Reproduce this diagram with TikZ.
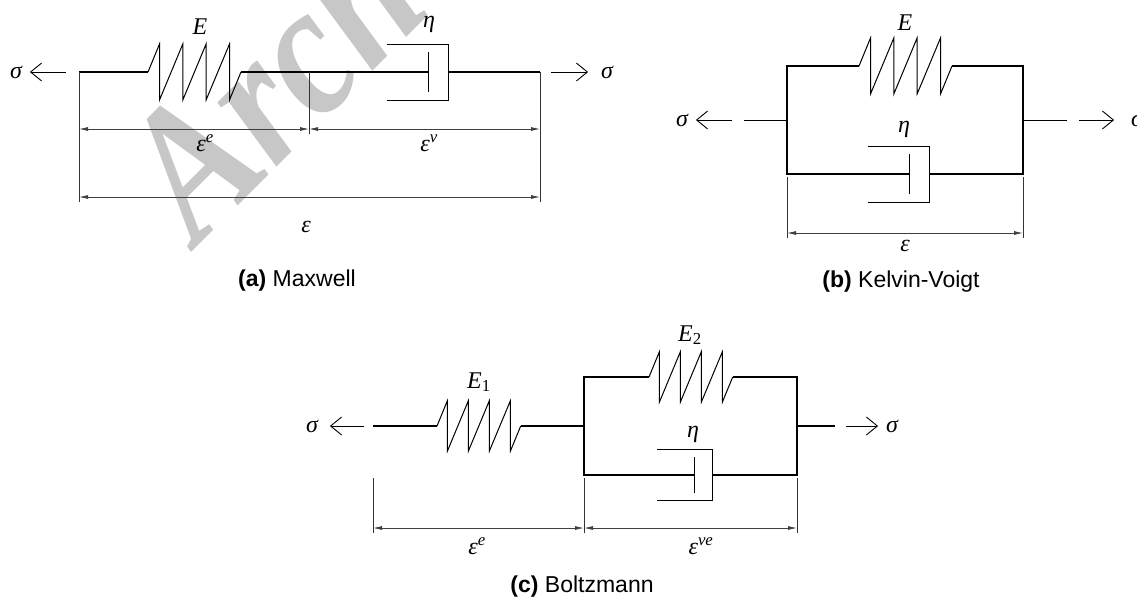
\documentclass[tikz,border=0pt]{standalone}
\usepackage{amsmath}
\usepackage{fontspec}
\setmainfont{Liberation Sans}
\newfontfamily\wmfont{Liberation Serif}
\usetikzlibrary{arrows.meta,calc}

\begin{document}
\begin{tikzpicture}[
  x=1pt, y=-1pt,
  wire/.style={line width=1.5pt},
  thin wire/.style={line width=1pt},
  pull/.style={-{Straight Barb[length=11pt,width=18pt]}, line width=0.9pt},
  dim/.style={{Latex[length=9pt,width=4pt]}-{Latex[length=9pt,width=4pt]},
              line width=0.8pt, black!75},
  tick/.style={line width=0.8pt, black!80},
  lbl/.style={font=\fontsize{24}{28}\selectfont\wmfont\itshape, inner sep=0pt},
  sig/.style={lbl, inner sep=2pt, outer sep=6pt},
  ttl/.style={font=\fontsize{23}{27}\selectfont, inner sep=0pt},
  wmk/.style={font=\fontsize{190}{200}\selectfont\wmfont\bfseries\itshape,
              text=black!22, transform shape, rotate=45, xscale=0.86,
              anchor=base west, inner sep=0pt},
  pics/spring/.style={code={
    \coordinate (-in)  at (0,0);
    \coordinate (-out) at (93,0);
    \draw[thin wire] (-in) -- (11.5,-28) -- (11.5,28) -- (34.8,-28) -- (34.8,28)
      -- (58.1,-28) -- (58.1,28) -- (81.5,-28) -- (81.5,28) -- (-out);
  }},
  pics/dashpot/.style={code={
    \coordinate (-rod) at (0,0);
    \coordinate (-out) at (20,0);
    \draw[thin wire] (0,-20) -- (0,20);
    \draw[thin wire] (-41,-28) -- (20,-28) -- (20,28) -- (-41,28);
  }},
]
\clip (0,0) rectangle (1137,598);

%% Watermark
\node[wmk] (wm) at (197,247) {Arch};

%% (a) Maxwell
\coordinate (La) at (79,72);
\coordinate (Ra) at (540,72);
\coordinate (Ma) at (309,72);
\path (148,72) pic (sa) {spring};
\path (428,72) pic (da) {dashpot};
\node[lbl] (Ea)   at (200,27) {E};
\node[lbl] (etaa) at (429,24) {η};
\node[sig] (sal)  at (16,72)  {σ};
\node[sig] (sar)  at (607,72) {σ};
\coordinate (Fal) at (66,72);
\coordinate (Far) at (551,72);

\draw[wire] (La) -- (sa-in);
\draw[wire] (sa-out) -- (da-rod);
\draw[wire] (da-out) -- (Ra);
\draw[pull] (Fal) -- (sal);
\draw[pull, shorten >=5pt] (Far) -- (sar);

% strain bars
\coordinate (a1) at (79,129);
\coordinate (a2) at (309,129);
\coordinate (a3) at (540,129);
\coordinate (a4) at (79,197);
\coordinate (a5) at (540,197);
\draw[tick] (La) -- ($(a4)+(0,5)$);
\draw[tick] (Ma) -- ($(a2)+(0,5)$);
\draw[tick] (Ra) -- ($(a5)+(0,5)$);
\draw[dim] (a1) -- (a2);
\draw[dim] (a2) -- (a3);
\draw[dim] (a4) -- (a5);
\node[lbl] (epsae) at (205,143) {ε\textsuperscript{e}};
\node[lbl] (epsav) at (429,143) {ε\textsuperscript{v}};
\node[lbl] (epsa)  at (306,227) {ε};
\node[ttl] (ttla)  at (297,281) {\textbf{(a)} Maxwell};

%% (b) Kelvin-Voigt
\coordinate (Lb) at (787,120);
\coordinate (Rb) at (1023,120);
\path (859,66) pic (sb) {spring};
\path (909,174) pic (db) {dashpot};
\node[lbl] (Eb)   at (905,23)  {E};
\node[lbl] (etab) at (904,129) {η};
\node[sig] (sbl)  at (682,120) {σ};
\node[sig] (sbr)  at (1137,120) {σ};
\coordinate (Sbl) at (744,120);
\coordinate (Sbr) at (1067,120);
\coordinate (Fbl) at (732,120);
\coordinate (Fbr) at (1079,120);

\draw[wire] (sb-in) -| (Lb) |- (db-rod);
\draw[wire] (sb-out) -| (Rb) |- (db-out);
\draw[thin wire] (Sbl) -- (Lb);
\draw[thin wire] (Rb) -- (Sbr);
\draw[pull] (Fbl) -- (sbl);
\draw[pull, shorten >=9pt] (Fbr) -- (sbr);

% strain bar
\coordinate (b1) at (787,233);
\coordinate (b2) at (1023,233);
\draw[tick] (787,177) -- ($(b1)+(0,5)$);
\draw[tick] (1023,177) -- ($(b2)+(0,5)$);
\draw[dim] (b1) -- (b2);
\node[lbl] (epsb) at (905,246) {ε};
\node[ttl] (ttlb) at (901,282) {\textbf{(b)} Kelvin-Voigt};

%% (c) Boltzmann
\coordinate (Lc) at (373,426);
\coordinate (Jl) at (584,426);
\coordinate (Jr) at (797,426);
\path (437,426) pic[scale=0.9] (sc) {spring};
\path (649,377) pic[scale=0.9] (st) {spring};
\path (694,475) pic[scale=0.9] (dc) {dashpot};
\node[lbl] (Ec)   at (479,382) {E\textsubscript{\upshape 1}};
\node[lbl] (Et)   at (690,335) {E\textsubscript{\upshape 2}};
\node[lbl] (etac) at (693,434) {η};
\node[sig] (scl)  at (312,426) {σ};
\node[sig] (scr)  at (892,426) {σ};
\coordinate (Fcl) at (364,426);
\coordinate (Fcr) at (846,426);
\coordinate (Scr) at (835,426);

\draw[wire] (Lc) -- (sc-in);
\draw[wire] (sc-out) -- (Jl);
\draw[wire] (st-in) -| (Jl) |- (dc-rod);
\draw[wire] (st-out) -| (Jr) |- (dc-out);
\draw[wire] (Jr) -- (Scr);
\draw[pull, shorten >=4pt] (Fcl) -- (scl);
\draw[pull] (Fcr) -- (scr);

% strain bars
\coordinate (c1) at (373,528);
\coordinate (c2) at (584,528);
\coordinate (c3) at (797,528);
\draw[tick] (373,478) -- ($(c1)+(0,5)$);
\draw[tick] (584,478) -- ($(c2)+(0,5)$);
\draw[tick] (797,478) -- ($(c3)+(0,5)$);
\draw[dim] (c1) -- (c2);
\draw[dim] (c2) -- (c3);
\node[lbl] (epsce) at (477,546) {ε\textsuperscript{e}};
\node[lbl] (epscv) at (701,546) {ε\textsuperscript{ve}};
\node[ttl] (ttlc)  at (582,587) {\textbf{(c)} Boltzmann};

\end{tikzpicture}
\end{document}
